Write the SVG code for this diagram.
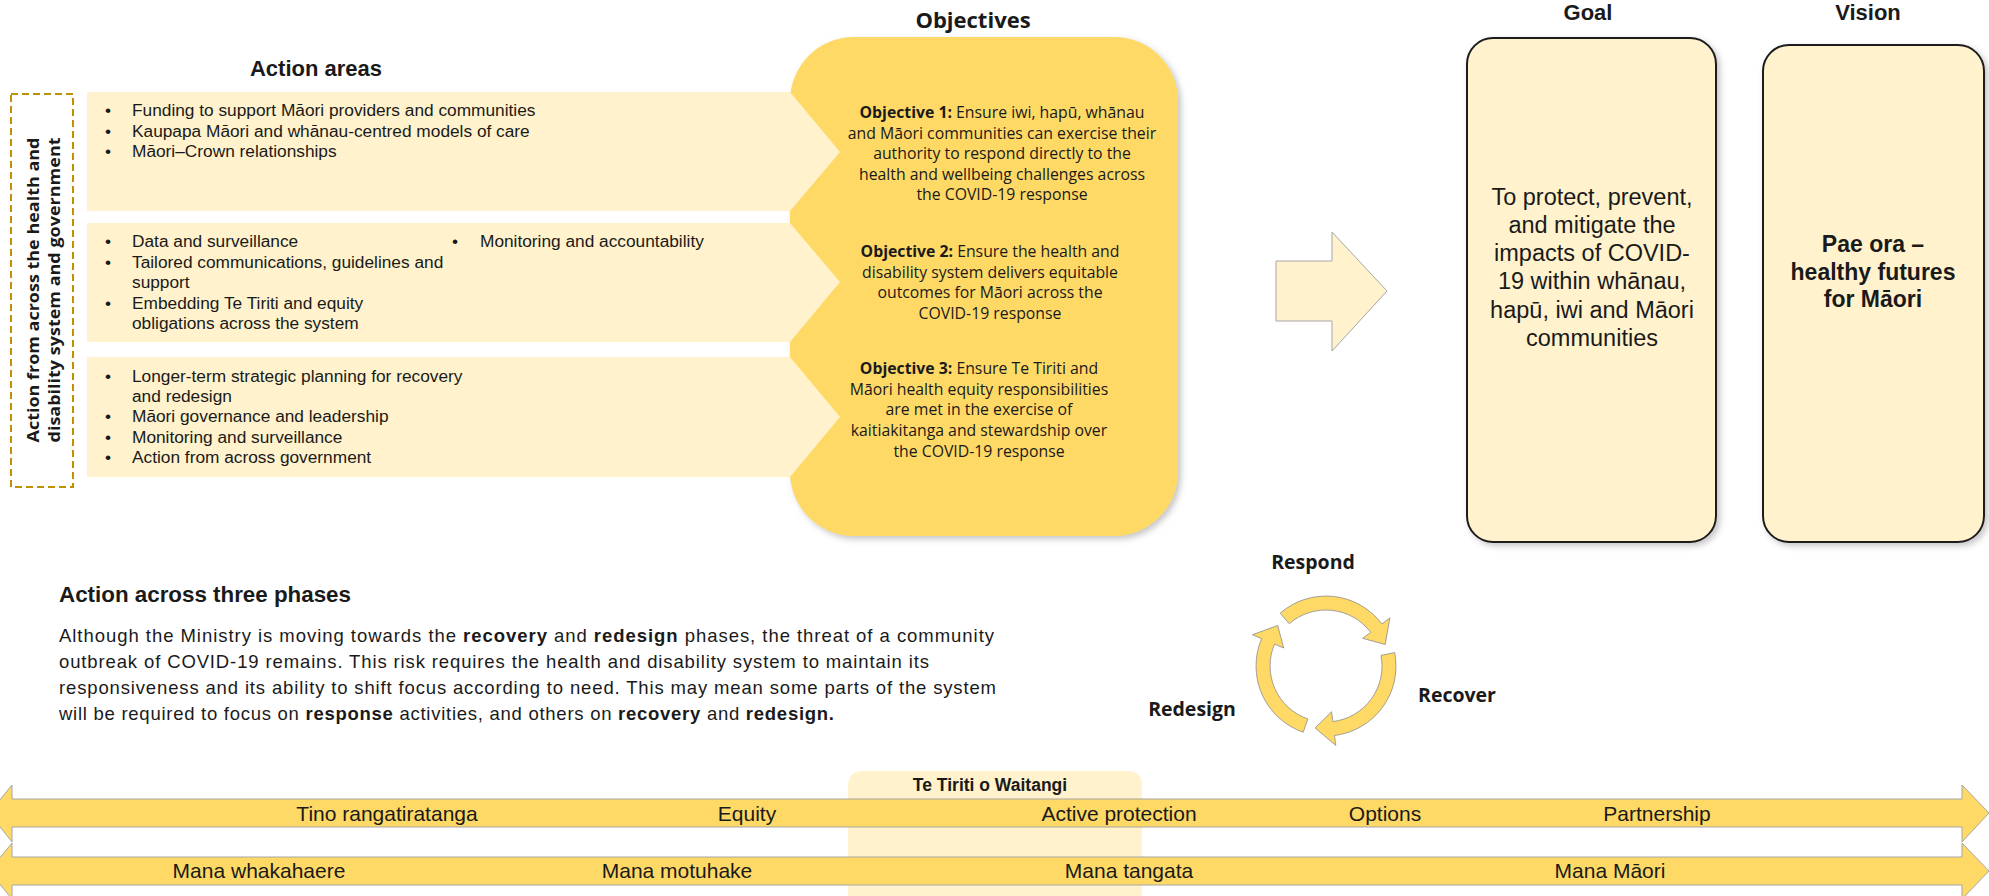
<svg xmlns="http://www.w3.org/2000/svg" width="1989" height="896" viewBox="0 0 1989 896">
<defs>
<filter id="sh" x="-10%" y="-10%" width="130%" height="130%">
<feDropShadow dx="3" dy="3" stdDeviation="3" flood-color="#7f7f7f" flood-opacity="0.45"/>
</filter>
<style>
.cal{font-family:"Liberation Sans",Arial,sans-serif;fill:#1a1a1a}
.tah{font-family:"Open Sans","DejaVu Sans",sans-serif;fill:#1a1a1a}
.b{font-weight:bold}
.band{fill:#FFF2CC}
.gold{fill:#FFD966}
.pale{fill:#FFF2CC}
.arr{fill:#FFD966;stroke:#A6A6A6;stroke-width:1}
.cyc{fill:#FFD966;stroke:#8C8C8C;stroke-width:0.8}
.box{fill:#FFF2CC;stroke:#1a1a1a;stroke-width:2}
.bt{font-size:17.3px}
.ot{font-size:15.8px}
.mid{text-anchor:middle}
</style>
</defs>
<rect width="1989" height="896" fill="#ffffff"/>

<!-- Headers -->
<g id="headers">
<text class="cal b mid" x="316" y="76" font-size="22">Action areas</text>
<text class="tah b mid" x="973" y="28" font-size="22">Objectives</text>
<text class="cal b mid" x="1588" y="20" font-size="22">Goal</text>
<text class="cal b mid" x="1868" y="20" font-size="22">Vision</text>
</g>

<!-- Objectives box (drawn beneath the action-area chevrons) -->
<g id="objectives">
<rect x="790" y="37" width="388" height="499" rx="64" ry="64" class="gold" filter="url(#sh)"/>
</g>

<!-- Side label -->
<g id="side-label">
<rect x="11" y="94" width="62" height="393" fill="none" stroke="#BF9000" stroke-width="2" stroke-dasharray="7,4"/>
<text class="tah b" font-size="16.5" transform="translate(39,290) rotate(-90)" text-anchor="middle" textLength="305" lengthAdjust="spacingAndGlyphs">Action from across the health and</text>
<text class="tah b" font-size="16.5" transform="translate(60,290) rotate(-90)" text-anchor="middle" textLength="305" lengthAdjust="spacingAndGlyphs">disability system and government</text>
</g>

<!-- Action area bands -->
<g id="band1">
<polygon class="band" points="87,92 790,92 840,152 790,211 87,211"/>
<g class="cal bt">
<text x="105" y="116">•</text><text x="132" y="116">Funding to support Māori providers and communities</text>
<text x="105" y="137">•</text><text x="132" y="137">Kaupapa Māori and whānau-centred models of care</text>
<text x="105" y="157">•</text><text x="132" y="157">Māori–Crown relationships</text>
</g>
</g>
<g id="band2">
<polygon class="band" points="87,223 790,223 840,282 790,342 87,342"/>
<g class="cal bt">
<text x="105" y="247">•</text><text x="132" y="247">Data and surveillance</text>
<text x="105" y="268">•</text><text x="132" y="268">Tailored communications, guidelines and</text>
<text x="132" y="288">support</text>
<text x="105" y="309">•</text><text x="132" y="309">Embedding Te Tiriti and equity</text>
<text x="132" y="329">obligations across the system</text>
<text x="452" y="247">•</text><text x="480" y="247">Monitoring and accountability</text>
</g>
</g>
<g id="band3">
<polygon class="band" points="87,357 790,357 840,417 790,477 87,477"/>
<g class="cal bt">
<text x="105" y="382">•</text><text x="132" y="382">Longer-term strategic planning for recovery</text>
<text x="132" y="402">and redesign</text>
<text x="105" y="422">•</text><text x="132" y="422">Māori governance and leadership</text>
<text x="105" y="443">•</text><text x="132" y="443">Monitoring and surveillance</text>
<text x="105" y="463">•</text><text x="132" y="463">Action from across government</text>
</g>
</g>

<!-- Objective texts -->
<g id="objective1" class="tah ot mid">
<text x="1002" y="118"><tspan class="b">Objective 1:</tspan> Ensure iwi, hapū, whānau</text>
<text x="1002" y="139">and Māori communities can exercise their</text>
<text x="1002" y="159">authority to respond directly to the</text>
<text x="1002" y="180">health and wellbeing challenges across</text>
<text x="1002" y="200">the COVID-19 response</text>
</g>
<g id="objective2" class="tah ot mid">
<text x="990" y="257"><tspan class="b">Objective 2:</tspan> Ensure the health and</text>
<text x="990" y="278">disability system delivers equitable</text>
<text x="990" y="298">outcomes for Māori across the</text>
<text x="990" y="319">COVID-19 response</text>
</g>
<g id="objective3" class="tah ot mid">
<text x="979" y="374"><tspan class="b">Objective 3:</tspan> Ensure Te Tiriti and</text>
<text x="979" y="395">Māori health equity responsibilities</text>
<text x="979" y="415">are met in the exercise of</text>
<text x="979" y="436">kaitiakitanga and stewardship over</text>
<text x="979" y="457">the COVID-19 response</text>
</g>

<!-- Goal -->
<g id="goal">
<rect x="1467" y="38" width="249" height="504" rx="26" ry="26" class="box" filter="url(#sh)"/>
<g class="cal mid" font-size="23.5">
<text x="1592" y="205">To protect, prevent,</text>
<text x="1592" y="233">and mitigate the</text>
<text x="1592" y="261">impacts of COVID-</text>
<text x="1592" y="289">19 within whānau,</text>
<text x="1592" y="318">hapū, iwi and Māori</text>
<text x="1592" y="346">communities</text>
</g>
</g>

<!-- Vision -->
<g id="vision">
<rect x="1763" y="45" width="221" height="497" rx="26" ry="26" class="box" filter="url(#sh)"/>
<g class="cal b mid" font-size="23">
<text x="1873" y="252">Pae ora –</text>
<text x="1873" y="280">healthy futures</text>
<text x="1873" y="307">for Māori</text>
</g>
</g>

<!-- Phases text -->
<g id="phases">
<text class="cal b" x="59" y="602" font-size="21.5" textLength="292" lengthAdjust="spacingAndGlyphs">Action across three phases</text>
<g class="cal" font-size="18.5">
<text x="59" y="642" textLength="935" lengthAdjust="spacing">Although the Ministry is moving towards the <tspan class="b">recovery</tspan> and <tspan class="b">redesign</tspan> phases, the threat of a community</text>
<text x="59" y="668" textLength="870" lengthAdjust="spacing">outbreak of COVID-19 remains. This risk requires the health and disability system to maintain its</text>
<text x="59" y="694" textLength="937" lengthAdjust="spacing">responsiveness and its ability to shift focus according to need. This may mean some parts of the system</text>
<text x="59" y="720" textLength="775" lengthAdjust="spacing">will be required to focus on <tspan class="b">response</tspan> activities, and others on <tspan class="b">recovery</tspan> and <tspan class="b">redesign.</tspan></text>
</g>
</g>

<!-- Cycle labels -->
<g id="respond"><text class="tah b mid" x="1313" y="569" font-size="19.5">Respond</text></g>
<g id="recover"><text class="tah b mid" x="1457" y="702" font-size="19.5">Recover</text></g>
<g id="redesign"><text class="tah b mid" x="1192" y="716" font-size="19.5">Redesign</text></g>

<!-- Connectors -->
<g id="connectors">
<polygon points="1276,261 1332,261 1332,232 1387,291 1332,351 1332,321 1276,321" fill="#FFF2CC" stroke="#A6A6A6" stroke-width="1"/>
<path class="cyc" d="M1280.1,613.2 A70,70 0 0 1 1381.9,623.9 L1389.9,617.9 L1385.2,644.5 L1362.7,638.3 L1370.7,632.3 A56,56 0 0 0 1289.3,623.7 Z"/>
<path class="cyc" d="M1394.7,652.6 A70,70 0 0 1 1334.5,735.5 L1335.8,745.4 L1315.1,728.0 L1331.6,711.7 L1332.8,721.6 A56,56 0 0 0 1381.0,655.3 Z"/>
<path class="cyc" d="M1303.2,732.2 A70,70 0 0 1 1261.6,638.7 L1252.4,634.7 L1277.7,625.5 L1283.7,648.0 L1274.5,644.1 A56,56 0 0 0 1307.8,718.9 Z"/>
</g>

<!-- Te Tiriti o Waitangi -->
<g id="tiriti">
<path class="pale" d="M848,786 Q848,771 863,771 L1127,771 Q1142,771 1142,786 L1142,896 L848,896 Z"/>
<text class="cal b mid" x="990" y="791" font-size="17.5">Te Tiriti o Waitangi</text>
</g>

<!-- Principle arrows -->
<g id="principles">
<polygon class="arr" points="-11,813 12,785 12,799 1962,799 1962,785 1989,813 1962,842 1962,827 12,827 12,842"/>
<g class="cal mid" font-size="21">
<text x="387" y="821">Tino rangatiratanga</text>
<text x="747" y="821">Equity</text>
<text x="1119" y="821">Active protection</text>
<text x="1385" y="821">Options</text>
<text x="1657" y="821">Partnership</text>
</g>
</g>
<g id="mana">
<polygon class="arr" points="-11,871 12,843 12,857 1962,857 1962,843 1989,871 1962,899 1962,885 12,885 12,899"/>
<g class="cal mid" font-size="21">
<text x="259" y="878">Mana whakahaere</text>
<text x="677" y="878">Mana motuhake</text>
<text x="1129" y="878">Mana tangata</text>
<text x="1610" y="878">Mana Māori</text>
</g>
</g>
</svg>
